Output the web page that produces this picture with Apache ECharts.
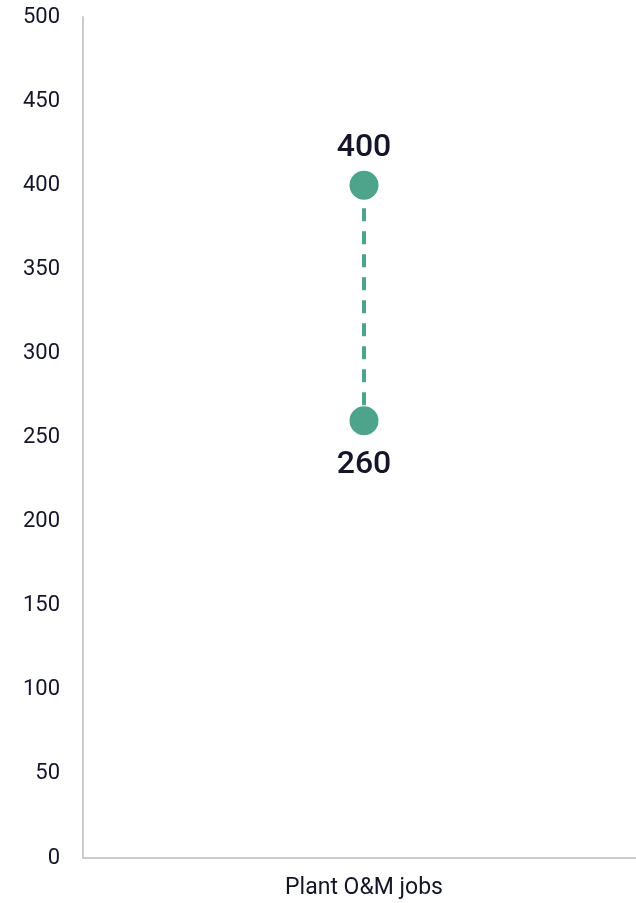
<!DOCTYPE html>
<html>
<head>
<meta charset="utf-8">
<script src="https://cdn.jsdelivr.net/npm/echarts@6/dist/echarts.min.js"></script>
<style>
  html, body { margin: 0; padding: 0; background: #fff; overflow: hidden; }
  #chart { width: 645px; height: 903px; }
</style>
</head>
<body>
<div id="chart"></div>
<script>
const categories = ['Plant O&M jobs']
const highValues = [400]
const lowValues = [260]
const yTicks = { min: 0, max: 500, interval: 50 }

const textColor = '#15152a'
const dotColor = '#4ea38b'

const chart = echarts.init(document.getElementById('chart'))

// dashed range line from high to low for each category
const rangeData = []
categories.forEach((c, i) => {
  rangeData.push([c, highValues[i]])
  rangeData.push([c, lowValues[i]])
})

const option = {
  animation: false,
  grid: { left: 83, right: 0, top: 17, bottom: 45 },
  xAxis: {
    type: 'category',
    data: categories,
    axisLine: { lineStyle: { color: '#cccccc', width: 2 } },
    axisTick: { show: false },
    axisLabel: { color: textColor, fontSize: 23, fontFamily: 'Roboto', margin: 19 }
  },
  yAxis: {
    type: 'value',
    min: yTicks.min,
    max: yTicks.max,
    interval: yTicks.interval,
    axisLine: { show: true, lineStyle: { color: '#cccccc', width: 2 } },
    axisTick: { show: false },
    splitLine: { show: false },
    axisLabel: { color: textColor, fontSize: 22, fontFamily: 'Roboto', margin: 23 }
  },
  series: [
    {
      type: 'line',
      data: rangeData,
      showSymbol: false,
      lineStyle: { color: dotColor, width: 4, type: [13, 10] },
      z: 1
    },
    {
      type: 'scatter',
      data: categories.map((c, i) => [c, highValues[i]]),
      symbolSize: 29,
      itemStyle: { color: dotColor, opacity: 1 },
      label: {
        show: true, position: 'top', distance: 7,
        color: textColor, fontSize: 32, fontWeight: 500, fontFamily: 'Roboto',
        formatter: p => p.value[1]
      },
      z: 2
    },
    {
      type: 'scatter',
      data: categories.map((c, i) => [c, lowValues[i]]),
      symbolSize: 29,
      itemStyle: { color: dotColor, opacity: 1 },
      label: {
        show: true, position: 'bottom', distance: 14,
        color: textColor, fontSize: 32, fontWeight: 500, fontFamily: 'Roboto',
        formatter: p => p.value[1]
      },
      z: 2
    }
  ]
}
chart.setOption(option)
</script>
</body>
</html>
